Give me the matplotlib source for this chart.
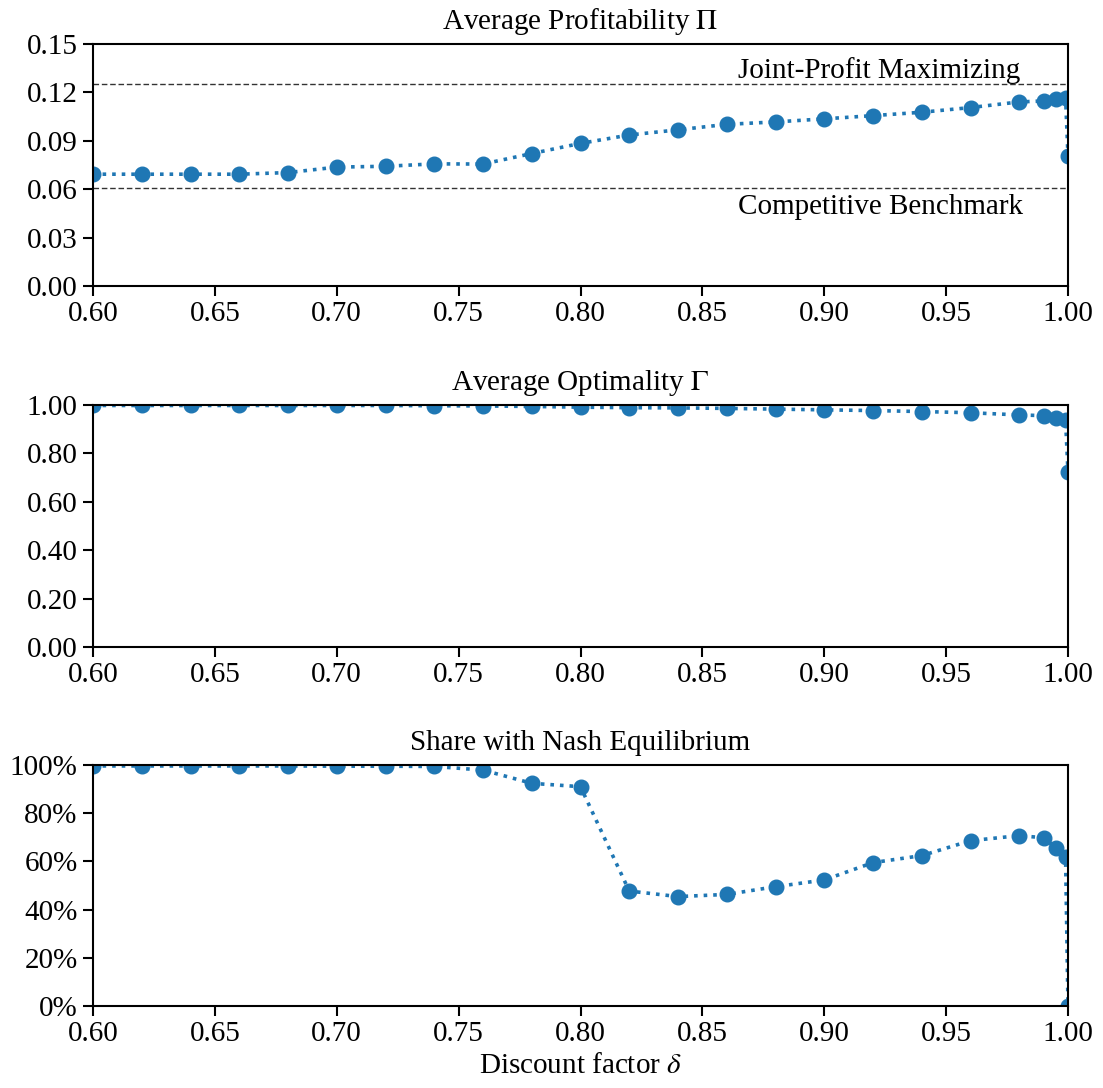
import matplotlib
matplotlib.use("Agg")
import matplotlib.pyplot as plt
from matplotlib.ticker import PercentFormatter, FormatStrFormatter

plt.rcParams['font.family'] = ['Liberation Serif', 'DejaVu Serif']
plt.rcParams['mathtext.fontset'] = 'stix'
plt.rcParams['font.size'] = 21

delta = [0.60, 0.62, 0.64, 0.66, 0.68, 0.70, 0.72, 0.74, 0.76, 0.78, 0.80,
         0.82, 0.84, 0.86, 0.88, 0.90, 0.92, 0.94, 0.96, 0.98, 0.99, 0.995,
         0.999, 1.0]
profit = [0.0693, 0.0693, 0.0693, 0.0693, 0.0703, 0.0737, 0.0742, 0.0757,
          0.0756, 0.0821, 0.0884, 0.0936, 0.0968, 0.1002, 0.1017, 0.1036,
          0.1056, 0.1077, 0.1106, 0.1141, 0.1147, 0.1159, 0.1166, 0.0806]
optimality = [0.998, 0.998, 0.998, 0.998, 0.998, 0.998, 0.998, 0.997, 0.996,
              0.994, 0.991, 0.989, 0.988, 0.986, 0.983, 0.980, 0.977, 0.973,
              0.968, 0.959, 0.956, 0.945, 0.938, 0.722]
nash_share = [0.996, 0.996, 0.996, 0.996, 0.996, 0.995, 0.995, 0.994, 0.979,
              0.924, 0.910, 0.477, 0.454, 0.463, 0.495, 0.523, 0.595, 0.624,
              0.686, 0.707, 0.698, 0.657, 0.620, 0.0]
joint_profit = 0.125
competitive = 0.061

xticks = [0.60, 0.65, 0.70, 0.75, 0.80, 0.85, 0.90, 0.95, 1.00]
color = '#1f77b4'

fig = plt.figure(figsize=(11.03, 10.88), dpi=100)
W, H = 1103, 1088
def add_ax(top, bottom):
    return fig.add_axes([93 / W, 1 - bottom / H, (1068 - 93) / W, (bottom - top) / H])

ax1 = add_ax(44, 286)
ax2 = add_ax(405, 647)
ax3 = add_ax(765, 1006)

style = dict(color=color, linestyle=':', linewidth=2.6, marker='o', markersize=10.5)

ax1.plot(delta, profit, **style)
ax1.axhline(joint_profit, color='#333333', linestyle='--', linewidth=1.0, dashes=(4, 2))
ax1.axhline(competitive, color='#333333', linestyle='--', linewidth=1.0, dashes=(4, 2))
ax1.text(0.8646, joint_profit + 0.0003, 'Joint-Profit Maximizing', ha='left', va='bottom')
ax1.text(0.8646, competitive - 0.004, 'Competitive Benchmark', ha='left', va='top')
ax1.set_ylim(0, 0.15)
ax1.set_yticks([0.00, 0.03, 0.06, 0.09, 0.12, 0.15])
ax1.yaxis.set_major_formatter(FormatStrFormatter('%.2f'))
ax1.set_title(r'Average Profitability $\Pi$', fontsize=21, pad=11)

ax2.plot(delta, optimality, **style)
ax2.set_ylim(0, 1.0)
ax2.set_yticks([0.0, 0.2, 0.4, 0.6, 0.8, 1.0])
ax2.yaxis.set_major_formatter(FormatStrFormatter('%.2f'))
ax2.set_title(r'Average Optimality $\Gamma$', fontsize=21, pad=11)

ax3.plot(delta, nash_share, **style)
ax3.set_ylim(0, 1.0)
ax3.set_yticks([0.0, 0.2, 0.4, 0.6, 0.8, 1.0])
ax3.yaxis.set_major_formatter(PercentFormatter(xmax=1, decimals=0))
ax3.set_title('Share with Nash Equilibrium', fontsize=21, pad=11)
ax3.set_xlabel(r'Discount factor $\delta$', fontsize=21, labelpad=4)

for ax in (ax1, ax2, ax3):
    ax.set_xlim(0.6, 1.0)
    ax.set_xticks(xticks)
    ax.xaxis.set_major_formatter(FormatStrFormatter('%.2f'))
    ax.tick_params(direction='out', length=7, width=1.5, labelsize=21, pad=4)
    for s in ax.spines.values():
        s.set_linewidth(1.5)

fig.savefig('out.png', dpi=100)
